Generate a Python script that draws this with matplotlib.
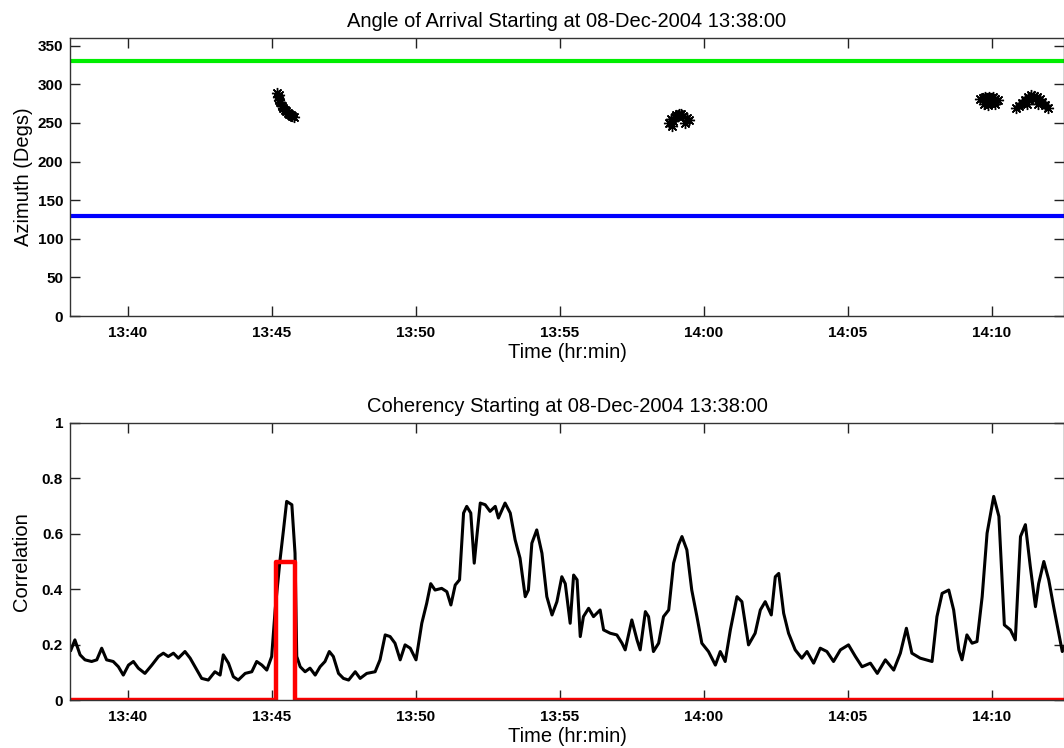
import matplotlib
matplotlib.use("Agg")
import matplotlib.pyplot as plt
from matplotlib.ticker import FixedLocator, FuncFormatter

# ---------------- data (minutes after 13:38:00) ----------------
START_HR, START_MIN = 13, 38
T_END = 34.5

# azimuth detections, one list per burst
az1_t = [7.20, 7.22, 7.25, 7.27, 7.30, 7.36, 7.40, 7.45, 7.50, 7.55, 7.60, 7.66, 7.72, 7.76]
az1_v = [289, 284, 280, 286, 277, 272, 270, 267, 266, 263, 262, 260, 259, 258]

az2_t = [20.80, 20.85, 20.90, 20.92, 21.00, 21.05, 21.12, 21.20, 21.28, 21.35, 21.42, 21.48]
az2_v = [250, 255, 246, 252, 258, 260, 262, 261, 259, 250, 256, 254]

az3_t = [31.60, 31.68, 31.72, 31.75, 31.82, 31.85, 31.90, 31.95, 31.97, 32.05, 32.10, 32.12, 32.20]
az3_v = [281, 282, 275, 283, 282, 273, 283, 276, 282, 283, 274, 281, 280]

az4_t = [32.85, 32.95, 33.05, 33.15, 33.25, 33.30, 33.35, 33.40, 33.45, 33.50, 33.55, 33.65,
         33.75, 33.85, 33.95, 33.20, 33.60]
az4_v = [270, 272, 276, 280, 284, 280, 286, 282, 285, 281, 283, 281, 277, 273, 270, 274, 274]

az_upper = 330   # green limit
az_lower = 130   # blue limit

# coherency trace
coh_t = [0.03, 0.17, 0.35, 0.52, 0.75, 0.93, 1.10, 1.27, 1.50, 1.68, 1.85, 2.03, 2.20, 2.37,
         2.60, 2.84, 3.07, 3.24, 3.41, 3.59, 3.76, 3.99, 4.17, 4.34, 4.57, 4.80, 5.03, 5.21,
         5.32, 5.50, 5.67, 5.84, 6.08, 6.31, 6.48, 6.66, 6.83, 7.00, 7.12, 7.29, 7.41, 7.52,
         7.70, 7.81, 7.87, 7.99, 8.16, 8.33, 8.51, 8.68, 8.85, 9.00, 9.14, 9.32, 9.49, 9.67,
         9.90, 10.07, 10.30, 10.59, 10.76, 10.94, 11.11, 11.28, 11.46, 11.63, 11.81, 12.01,
         12.21, 12.38, 12.52, 12.67, 12.90, 13.08, 13.22, 13.37, 13.52, 13.66, 13.77, 13.91,
         14.03, 14.12, 14.24, 14.41, 14.58, 14.76, 14.87, 15.10, 15.28, 15.45, 15.62, 15.80,
         15.91, 16.03, 16.20, 16.38, 16.55, 16.73, 16.90, 17.07, 17.19, 17.36, 17.48, 17.60,
         17.71, 17.82, 18.00, 18.17, 18.40, 18.52, 18.75, 18.98, 19.16, 19.27, 19.50, 19.68,
         19.79, 19.97, 20.08, 20.25, 20.43, 20.60, 20.78, 20.95, 21.12, 21.24, 21.41, 21.58,
         21.76, 21.93, 22.16, 22.40, 22.57, 22.74, 22.92, 23.15, 23.32, 23.55, 23.78, 23.96,
         24.13, 24.34, 24.48, 24.60, 24.77, 24.94, 25.17, 25.40, 25.58, 25.81, 26.04, 26.27,
         26.50, 26.74, 27.02, 27.26, 27.49, 27.78, 28.02, 28.30, 28.59, 28.82, 29.03, 29.22,
         29.51, 29.92, 30.09, 30.27, 30.50, 30.67, 30.85, 30.96, 31.13, 31.31, 31.48, 31.66,
         31.83, 32.06, 32.24, 32.35, 32.43, 32.64, 32.81, 32.99, 33.16, 33.33, 33.51, 33.62,
         33.80, 33.97, 34.14, 34.32, 34.44, 34.52]
coh_v = [0.180, 0.217, 0.163, 0.145, 0.139, 0.145, 0.187, 0.145, 0.139, 0.120, 0.090, 0.126,
         0.139, 0.115, 0.096, 0.126, 0.157, 0.169, 0.157, 0.169, 0.151, 0.175, 0.151, 0.120,
         0.078, 0.072, 0.102, 0.090, 0.163, 0.133, 0.084, 0.072, 0.096, 0.102, 0.139, 0.126,
         0.108, 0.157, 0.325, 0.506, 0.614, 0.717, 0.705, 0.530, 0.157, 0.120, 0.102, 0.115,
         0.090, 0.120, 0.139, 0.175, 0.157, 0.096, 0.078, 0.072, 0.102, 0.078, 0.096, 0.102,
         0.145, 0.235, 0.229, 0.205, 0.145, 0.199, 0.187, 0.145, 0.277, 0.349, 0.420, 0.397,
         0.403, 0.391, 0.343, 0.415, 0.434, 0.675, 0.699, 0.675, 0.494, 0.590, 0.711, 0.705,
         0.681, 0.699, 0.657, 0.711, 0.675, 0.578, 0.512, 0.373, 0.397, 0.566, 0.614, 0.530,
         0.373, 0.307, 0.355, 0.445, 0.420, 0.277, 0.451, 0.434, 0.229, 0.301, 0.331, 0.301,
         0.325, 0.253, 0.241, 0.235, 0.205, 0.181, 0.289, 0.217, 0.181, 0.319, 0.301, 0.175,
         0.205, 0.301, 0.325, 0.494, 0.560, 0.590, 0.542, 0.397, 0.301, 0.205, 0.175, 0.126,
         0.175, 0.139, 0.253, 0.373, 0.355, 0.199, 0.241, 0.325, 0.355, 0.307, 0.445, 0.457,
         0.313, 0.241, 0.181, 0.151, 0.175, 0.133, 0.187, 0.175, 0.139, 0.181, 0.199, 0.157,
         0.120, 0.133, 0.096, 0.145, 0.108, 0.169, 0.259, 0.169, 0.151, 0.139, 0.301, 0.385,
         0.397, 0.325, 0.181, 0.145, 0.235, 0.205, 0.211, 0.373, 0.602, 0.735, 0.663, 0.434,
         0.271, 0.253, 0.217, 0.590, 0.633, 0.482, 0.337, 0.420, 0.500, 0.434, 0.337, 0.241,
         0.175, 0.193]

# detection window (red box)
det_start = 7.15
det_end = 7.81
det_level = 0.5

x_ticks = [2, 7, 12, 17, 22, 27, 32]


def hhmm(x, pos=None):
    total = START_HR * 60 + START_MIN + int(round(x))
    return f"{total // 60:02d}:{total % 60:02d}"


def style_axes(ax):
    ax.set_xlim(0, T_END)
    ax.xaxis.set_major_locator(FixedLocator(x_ticks))
    ax.xaxis.set_major_formatter(FuncFormatter(hhmm))
    ax.tick_params(direction="in", length=7, width=1, top=True, right=True,
                   labelsize=11, colors="#222222", labelcolor="black")
    ax.tick_params(axis="x", pad=7)
    ax.tick_params(axis="y", pad=5)
    for lab in ax.get_xticklabels() + ax.get_yticklabels():
        lab.set_fontweight("bold")
    for sp in ax.spines.values():
        sp.set_color("#333333")
        sp.set_linewidth(1.0)
    ax.set_xlabel("Time (hr:min)", fontsize=14.5, labelpad=2)


plt.rcParams["font.family"] = ["Liberation Sans", "DejaVu Sans"]

fig = plt.figure(figsize=(10.64, 7.48), dpi=100)
ax1 = fig.add_axes([70 / 1064, 1 - 316 / 748, 994 / 1064, 278 / 748])
ax2 = fig.add_axes([70 / 1064, 1 - 700 / 748, 994 / 1064, 277 / 748])

# ----- top: angle of arrival -----
ax1.axhline(az_upper, color="#00ee00", lw=3)
ax1.axhline(az_lower, color="#0000ff", lw=3)
for tt, vv in [(az1_t, az1_v), (az2_t, az2_v), (az3_t, az3_v), (az4_t, az4_v)]:
    ax1.plot(tt, vv, ls="none", marker=(8, 2, 0), ms=8, mew=1.0, color="black")
ax1.set_ylim(0, 360)
ax1.set_yticks(range(0, 351, 50))
style_axes(ax1)
ax1.set_ylabel("Azimuth (Degs)", fontsize=14.5, labelpad=3)
ax1.set_title("Angle of Arrival Starting at 08-Dec-2004 13:38:00", fontsize=14.5, pad=8)

# ----- bottom: coherency -----
ax2.plot(coh_t, coh_v, color="black", lw=2.2)
det_x = [0, det_start, det_start, det_end, det_end, T_END]
det_y = [0, 0, det_level, det_level, 0, 0]
ax2.plot(det_x, det_y, color="#ff0000", lw=3.2)
ax2.set_ylim(0, 1)
ax2.set_yticks([0, 0.2, 0.4, 0.6, 0.8, 1])
ax2.yaxis.set_major_formatter(FuncFormatter(lambda v, p: f"{v:g}"))
style_axes(ax2)
ax2.set_ylabel("Correlation", fontsize=14.5, labelpad=8)
ax2.set_title("Coherency Starting at 08-Dec-2004 13:38:00", fontsize=14.5, pad=8)

fig.savefig("out.png", dpi=100, facecolor="white")
